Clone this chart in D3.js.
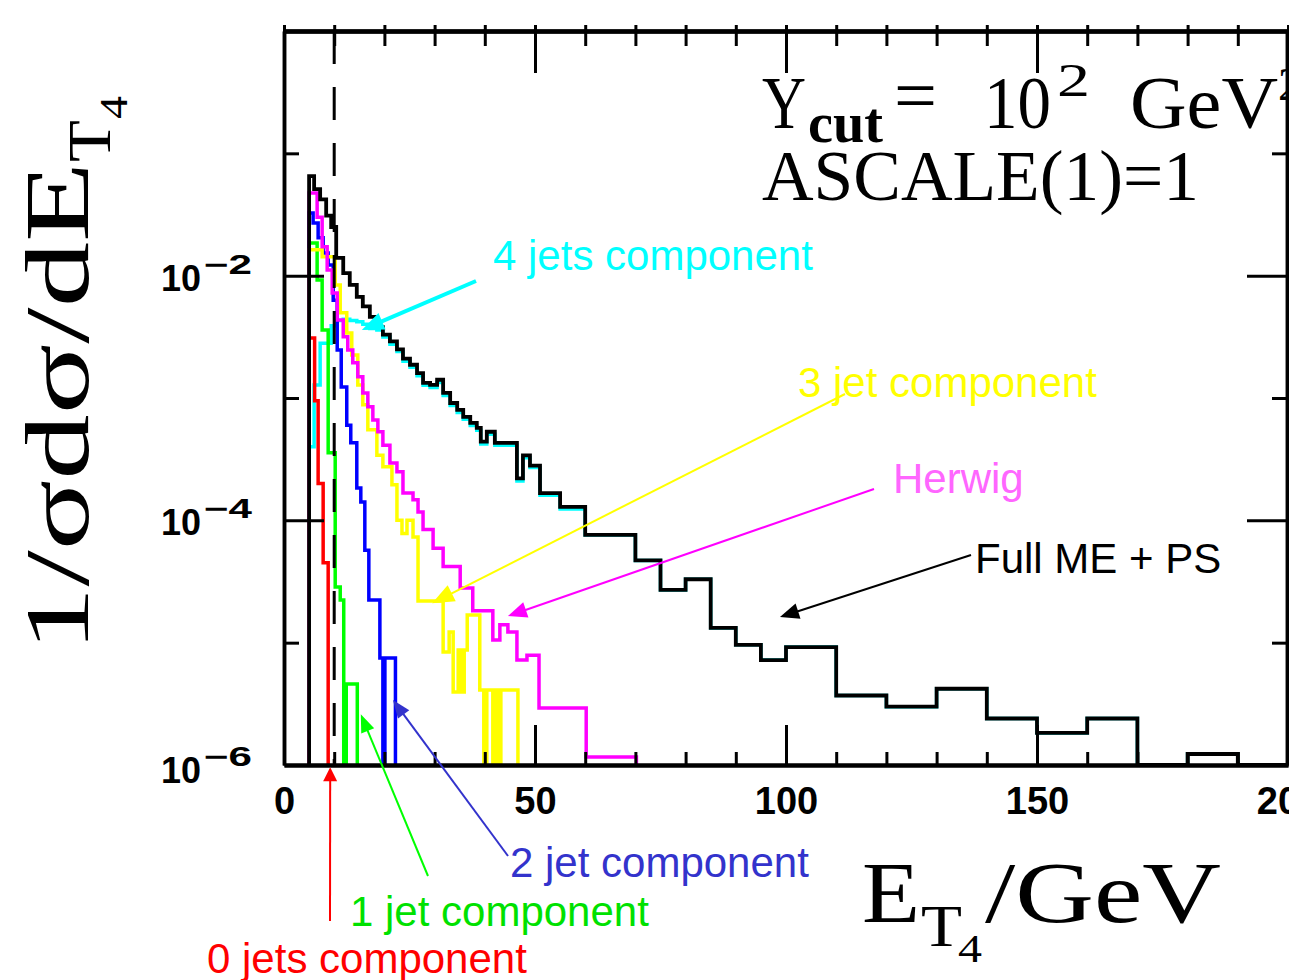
<!DOCTYPE html>
<html>
<head>
<meta charset="utf-8">
<script src="https://cdn.jsdelivr.net/npm/d3@7/dist/d3.min.js"></script>
<style>
  body { margin: 0; background: #ffffff; }
  svg { display: block; }
</style>
</head>
<body>
<svg id="chart" width="1289" height="980"></svg>
<script>
// E_T4 bin edges (GeV) and 1/sigma dsigma/dE_T4 per bin
var fullEdges = [5.0, 6.0, 7.2, 8.4, 9.4, 10.4, 11.8, 13.1, 14.5, 15.7, 17.1, 18.5, 19.7, 21.1, 22.5, 23.7,
  25.1, 26.5, 27.7, 29.1, 30.5, 31.7, 33.1, 34.5, 35.7, 37.1, 38.4, 39.2, 40.4, 42.0, 46.4, 47.6, 49.0,
  51.0, 55.0, 60.0, 70, 75, 80, 85, 90, 95, 100, 110, 120, 130, 140, 150, 160, 170, 180, 190, 200];
var fullVals = [6.5e-2, 5.1e-2, 4.2e-2, 3.1e-2, 2.5e-2, 1.4e-2, 1.05e-2, 8.4e-3, 6.7e-3, 5.6e-3, 4.6e-3,
  3.8e-3, 3.3e-3, 2.9e-3, 2.5e-3, 2.1e-3, 1.87e-3, 1.6e-3, 1.33e-3, 1.28e-3, 1.41e-3, 1.1e-3, 9.1e-4,
  8.0e-4, 7.0e-4, 6.25e-4, 5.7e-4, 4.4e-4, 5.3e-4, 4.3e-4, 2.2e-4, 3.4e-4, 2.8e-4, 1.67e-4, 1.29e-4,
  7.6e-5, 4.7e-5, 2.7e-5, 3.3e-5, 1.32e-5, 9.6e-6, 7.2e-6, 9.2e-6, 3.7e-6, 3.0e-6, 4.2e-6, 2.4e-6,
  1.83e-6, 2.4e-6, 0, 1.23e-6, 0];

var fourEdges = [5.0, 6.0, 7.2, 9.4, 10.4, 11.8, 13.1, 14.5, 15.7, 17.1, 18.5, 19.7, 21.1, 22.5, 23.7,
  25.1, 26.5, 27.7, 29.1, 30.5, 31.7, 33.1, 34.5, 35.7, 37.1, 38.4, 39.2, 40.4, 42.0, 46.4, 47.6, 49.0,
  51.0, 55.0, 60.0, 70, 75, 80, 85, 90, 95, 100, 110, 120, 130, 140, 150, 160, 170, 180, 190, 200];
var fourVals = [4.0e-4, 1.28e-3, 2.8e-3, 3.9e-3, 4.3e-3, 4.4e-3, 4.3e-3, 4.2e-3, 4.0e-3, 3.7e-3,
  3.6e-3, 3.15e-3, 2.75e-3, 2.4e-3, 2.0e-3, 1.78e-3, 1.52e-3, 1.27e-3, 1.22e-3, 1.34e-3, 1.05e-3,
  8.7e-4, 7.6e-4, 6.7e-4, 5.95e-4, 5.45e-4, 4.2e-4, 5.05e-4, 4.1e-4, 2.1e-4, 3.25e-4, 2.7e-4, 1.6e-4,
  1.24e-4, 7.6e-5, 4.7e-5, 2.7e-5, 3.3e-5, 1.32e-5, 9.6e-6, 7.2e-6, 9.2e-6, 3.7e-6, 3.0e-6, 4.2e-6,
  2.4e-6, 1.83e-6, 2.4e-6, 0, 1.23e-6, 0];

var herwigEdges = [5.0, 6.6, 7.6, 8.6, 9.6, 10.6, 11.8, 12.7, 13.7, 14.7, 15.7, 16.7, 17.7, 18.7, 19.7,
  21.1, 22.5, 23.7, 25.7, 26.7, 27.7, 29.7, 31.7, 35.1, 37.6, 41.6, 43.0, 44.6, 46.4, 48.4, 50.8, 60.2, 70.2];
var herwigVals = [4.75e-2, 3.0e-2, 1.72e-2, 1.11e-2, 7.2e-3, 4.35e-3, 3.16e-3, 2.47e-3, 1.94e-3, 1.49e-3,
  1.1e-3, 8.5e-4, 6.6e-4, 5.3e-4, 4.1e-4, 2.94e-4, 2.49e-4, 1.67e-4, 1.47e-4, 1.17e-4, 8.4e-5, 5.9e-5,
  4.2e-5, 2.8e-5, 1.82e-5, 1.05e-5, 1.4e-5, 1.22e-5, 7.2e-6, 7.9e-6, 2.92e-6, 1.16e-6];

var threeEdges = [5.0, 7.6, 10.2, 11.2, 12.5, 13.5, 14.7, 15.7, 16.7, 18.5, 19.7, 21.5, 22.5, 23.5, 24.5,
  25.7, 26.7, 31.7, 32.9, 33.7, 34.7, 35.3, 35.9, 36.5, 39.0, 39.8, 40.4, 41.6, 42.2, 42.8, 43.2, 46.6];
var threeVals = [1.63e-2, 1.43e-2, 8.4e-3, 4.97e-3, 3.4e-3, 2.25e-3, 1.28e-3, 8.8e-4, 5.5e-4, 3.4e-4,
  2.74e-4, 1.95e-4, 1.0e-4, 7.8e-5, 1.0e-4, 7.3e-5, 2.19e-5, 8.4e-6, 1.22e-5, 3.95e-6, 8.7e-6, 3.95e-6,
  8.7e-6, 1.68e-5, 4.1e-6, 0, 4.1e-6, 0, 4.1e-6, 0, 4.1e-6];

var twoEdges = [5.0, 5.8, 6.8, 7.8, 8.8, 9.8, 10.6, 11.4, 12.5, 13.3, 14.5, 15.3, 16.1, 16.9, 19.1, 19.7, 20.1, 22.2];
var twoVals = [3.26e-2, 2.7e-2, 2.04e-2, 1.53e-2, 1.22e-2, 6.3e-3, 2.47e-3, 1.23e-3, 6.0e-4, 4.3e-4,
  1.84e-4, 1.41e-4, 5.7e-5, 2.23e-5, 7.5e-6, 0, 7.5e-6];

var oneEdges = [5.0, 6.6, 7.6, 8.8, 10.2, 11.2, 11.9, 12.4, 14.6];
var oneVals = [1.85e-2, 9.2e-3, 3.6e-3, 3.56e-4, 2.85e-5, 2.23e-5, 0, 4.6e-6];

var zeroEdges = [5.0, 6.1, 6.8, 7.8, 8.8];
var zeroVals = [3.1e-3, 9.5e-4, 2.0e-4, 4.5e-5];

var xTicks = [0, 50, 100, 150, 200];
var yLabelPowers = [-2, -4, -6];
var ycutE = 10;

var svg = d3.select("#chart");
var x = d3.scaleLinear().domain([0, 200]).range([284, 1288]);
var y = d3.scaleLog().domain([1e-6, 1]).range([765, 31]);
var sans = "'Liberation Sans', Arial, sans-serif";
var serif = "'Liberation Serif', 'Times New Roman', serif";

function histPath(edges, vals) {
  var pts = [[edges[0], 0]];
  vals.forEach(function (v, i) { pts.push([edges[i], v]); });
  pts.push([edges[edges.length - 1], 0]);
  return d3.line()
    .x(function (d) { return x(d[0]); })
    .y(function (d) { return d[1] > 0 ? y(d[1]) : y.range()[0]; })
    .curve(d3.curveStepAfter)(pts);
}

function drawHistos() {
  var series = [
    { edges: fourEdges, vals: fourVals, color: "#00ffff", w: 3.5 },
    { edges: oneEdges, vals: oneVals, color: "#00ff00", w: 3.5 },
    { edges: zeroEdges, vals: zeroVals, color: "#ff0000", w: 3.5 },
    { edges: twoEdges, vals: twoVals, color: "#0000ff", w: 3.5 },
    { edges: threeEdges, vals: threeVals, color: "#ffff00", w: 3.5 },
    { edges: herwigEdges, vals: herwigVals, color: "#ff00ff", w: 3.5 },
    { edges: fullEdges, vals: fullVals, color: "#000000", w: 3.8 }
  ];
  svg.append("g").selectAll("path")
    .data(series)
    .enter()
    .append("path")
    .attr("d", function (s) { return histPath(s.edges, s.vals); })
    .attr("fill", "none")
    .attr("stroke", function (s) { return s.color; })
    .attr("stroke-width", function (s) { return s.w; })
    .attr("stroke-linejoin", "miter");

  // Ycut line
  svg.append("line")
    .attr("x1", x(ycutE)).attr("x2", x(ycutE))
    .attr("y1", y(1)).attr("y2", y(1e-6))
    .attr("stroke", "#000").attr("stroke-width", 3)
    .attr("stroke-dasharray", "33,23");
}

function styleAxis(g, w) {
  g.select(".domain").attr("stroke-width", w);
  g.selectAll(".tick line").attr("stroke-width", 3);
}

function drawAxes() {
  var minorX = d3.range(0, 201, 10);
  var minorY = [1e-1, 1e-3, 1e-5];
  var majorY = [1e-2, 1e-4];

  var b1 = svg.append("g").attr("transform", "translate(0," + y(1e-6) + ")")
    .call(d3.axisBottom(x).tickValues(minorX).tickSize(-13).tickSizeOuter(0).tickFormat(""));
  styleAxis(b1, 4);
  var b2 = svg.append("g").attr("transform", "translate(0," + y(1e-6) + ")")
    .call(d3.axisBottom(x).tickValues(xTicks).tickSize(-40).tickSizeOuter(0));
  styleAxis(b2, 4);
  b2.selectAll("text")
    .attr("y", 22).attr("dy", "0.71em")
    .attr("font-family", sans).attr("font-weight", "bold").attr("font-size", 38)
    .attr("fill", "#000");

  var t1 = svg.append("g").attr("transform", "translate(0," + y(1) + ")")
    .call(d3.axisBottom(x).tickValues(minorX).tickSize(15).tickSizeOuter(0).tickFormat(""));
  styleAxis(t1, 4);
  var t2 = svg.append("g").attr("transform", "translate(0," + y(1) + ")")
    .call(d3.axisBottom(x).tickValues(xTicks).tickSize(42).tickSizeOuter(0).tickFormat(""));
  styleAxis(t2, 4);
  var t3 = svg.append("g").attr("transform", "translate(0," + y(1) + ")")
    .call(d3.axisTop(x).tickValues(minorX).tickSize(6).tickSizeOuter(0).tickFormat(""));
  styleAxis(t3, 4);

  var l1 = svg.append("g").attr("transform", "translate(" + x(0) + ",0)")
    .call(d3.axisRight(y).tickValues(minorY).tickSize(15).tickSizeOuter(0).tickFormat(""));
  styleAxis(l1, 3.5);
  var l2 = svg.append("g").attr("transform", "translate(" + x(0) + ",0)")
    .call(d3.axisRight(y).tickValues(majorY).tickSize(40).tickSizeOuter(0).tickFormat(""));
  styleAxis(l2, 3.5);
  var r1 = svg.append("g").attr("transform", "translate(1287,0)")
    .call(d3.axisLeft(y).tickValues(minorY).tickSize(15).tickSizeOuter(0).tickFormat(""));
  styleAxis(r1, 3.5);
  var r2 = svg.append("g").attr("transform", "translate(1287,0)")
    .call(d3.axisLeft(y).tickValues(majorY).tickSize(40).tickSizeOuter(0).tickFormat(""));
  styleAxis(r2, 3.5);

  // 10^n labels on the left
  var lab = svg.append("g").selectAll("g")
    .data(yLabelPowers)
    .enter()
    .append("g")
    .attr("transform", function (p) { return "translate(0," + y(Math.pow(10, p)) + ")"; });
  lab.append("text")
    .attr("x", 161).attr("y", function (p) { return p === -6 ? 18 : 15; })
    .attr("font-family", sans).attr("font-weight", "bold").attr("font-size", 36)
    .attr("textLength", 40).attr("lengthAdjust", "spacingAndGlyphs")
    .text("10");
  lab.append("text")
    .attr("x", 204).attr("y", function (p) { return p === -6 ? 1 : -2; })
    .attr("font-family", sans).attr("font-weight", "bold").attr("font-size", 27)
    .attr("textLength", 48).attr("lengthAdjust", "spacingAndGlyphs")
    .text(function (p) { return "\u2212" + (-p); });
}

function drawTitles() {
  // y axis title, rotated
  var yt = svg.append("g").attr("transform", "translate(88,652) rotate(-90)")
    .attr("font-family", serif).attr("fill", "#000");
  yt.append("text").attr("x", 0).attr("y", 0).attr("font-size", 92)
    .attr("textLength", 490).attr("lengthAdjust", "spacingAndGlyphs")
    .text("1/\u03c3d\u03c3/dE");
  yt.append("text").attr("x", 490).attr("y", 22).attr("font-size", 62)
    .attr("textLength", 42).attr("lengthAdjust", "spacingAndGlyphs").text("T");
  yt.append("text").attr("x", 533).attr("y", 39).attr("font-size", 40)
    .attr("textLength", 23).attr("lengthAdjust", "spacingAndGlyphs").text("4");

  // x axis title
  var xt = svg.append("g").attr("font-family", serif).attr("fill", "#000");
  xt.append("text").attr("x", 862).attr("y", 922).attr("font-size", 86)
    .attr("textLength", 58).attr("lengthAdjust", "spacingAndGlyphs").text("E");
  xt.append("text").attr("x", 921).attr("y", 946).attr("font-size", 60)
    .attr("textLength", 41).attr("lengthAdjust", "spacingAndGlyphs").text("T");
  xt.append("text").attr("x", 958).attr("y", 962).attr("font-size", 40)
    .attr("textLength", 24).attr("lengthAdjust", "spacingAndGlyphs").text("4");
  xt.append("text").attr("x", 985).attr("y", 922).attr("font-size", 86)
    .attr("textLength", 236).attr("lengthAdjust", "spacingAndGlyphs").text("/GeV");

  // run settings, top right
  var st = svg.append("g").attr("font-family", serif).attr("fill", "#000");
  st.append("text").attr("x", 762).attr("y", 128).attr("font-size", 74)
    .attr("textLength", 44).attr("lengthAdjust", "spacingAndGlyphs").text("Y");
  st.append("text").attr("x", 808).attr("y", 142).attr("font-size", 56).attr("font-weight", "bold")
    .attr("textLength", 75).attr("lengthAdjust", "spacingAndGlyphs").text("cut");
  st.append("text").attr("x", 894).attr("y", 120).attr("font-size", 74)
    .attr("textLength", 43).attr("lengthAdjust", "spacingAndGlyphs").text("=");
  st.append("text").attr("x", 984).attr("y", 128).attr("font-size", 74)
    .attr("textLength", 67).attr("lengthAdjust", "spacingAndGlyphs").text("10");
  st.append("text").attr("x", 1057).attr("y", 96).attr("font-size", 46)
    .attr("textLength", 33).attr("lengthAdjust", "spacingAndGlyphs").text("2");
  st.append("text").attr("x", 1130).attr("y", 128).attr("font-size", 74)
    .attr("textLength", 148).attr("lengthAdjust", "spacingAndGlyphs").text("GeV");
  st.append("text").attr("x", 1278).attr("y", 100).attr("font-size", 46).text("2");
  st.append("text").attr("x", 762).attr("y", 200).attr("font-size", 72)
    .attr("textLength", 437).attr("lengthAdjust", "spacingAndGlyphs").text("ASCALE(1)=1");
}

function drawNotes() {
  var notes = [
    { text: "4 jets component", color: "#00ffff", line: "#00ffff", tx: 493, ty: 270, from: [476, 281], tipE: 15.5, tipV: 3.6e-3, w: 4, L: 22, W: 9 },
    { text: "3 jet component", color: "#ffff00", line: "#ffff00", tx: 798, ty: 397, from: [845, 394], tipE: 29.5, tipV: 2.1e-5, w: 2, L: 22, W: 9 },
    { text: "Herwig", color: "#ff66ff", line: "#ff00ff", tx: 893, ty: 493, from: [874, 489], tipE: 44.6, tipV: 1.65e-5, w: 2, L: 19, W: 8 },
    { text: "Full ME + PS", color: "#000000", line: "#000000", tx: 975, ty: 573, from: [971, 555], tipE: 98.8, tipV: 1.62e-5, w: 2, L: 19, W: 8 },
    { text: "2 jet component", color: "#3333cc", line: "#3333cc", tx: 510, ty: 877, from: [508, 856], tipE: 21.7, tipV: 3.4e-6, w: 2, L: 18, W: 7 },
    { text: "1 jet component", color: "#00e100", line: "#00ff00", tx: 350, ty: 926, from: [428, 876], tipE: 15.3, tipV: 2.6e-6, w: 2, L: 18, W: 7 },
    { text: "0 jets component", color: "#ff0000", line: "#ff0000", tx: 207, ty: 973, from: [330, 921], tipE: 9.2, tipV: 9.6e-7, w: 2, L: 14, W: 7 }
  ];

  var g = svg.append("g");
  notes.forEach(function (n) {
    var tip = [x(n.tipE), y(n.tipV)];
    var dx = tip[0] - n.from[0], dy = tip[1] - n.from[1];
    var len = Math.sqrt(dx * dx + dy * dy);
    var ux = dx / len, uy = dy / len;
    var bx = tip[0] - n.L * ux, by = tip[1] - n.L * uy;
    g.append("line")
      .attr("x1", n.from[0]).attr("y1", n.from[1])
      .attr("x2", tip[0] - n.L * 0.7 * ux).attr("y2", tip[1] - n.L * 0.7 * uy)
      .attr("stroke", n.line).attr("stroke-width", n.w);
    g.append("polygon")
      .attr("points", [tip, [bx - n.W * uy, by + n.W * ux], [bx + n.W * uy, by - n.W * ux]]
        .map(function (p) { return p.join(","); }).join(" "))
      .attr("fill", n.line);
    g.append("text")
      .attr("x", n.tx).attr("y", n.ty)
      .attr("font-family", sans).attr("font-size", 42)
      .attr("fill", n.color)
      .text(n.text);
  });
}

drawHistos();
drawAxes();
drawTitles();
drawNotes();
</script>
</body>
</html>
